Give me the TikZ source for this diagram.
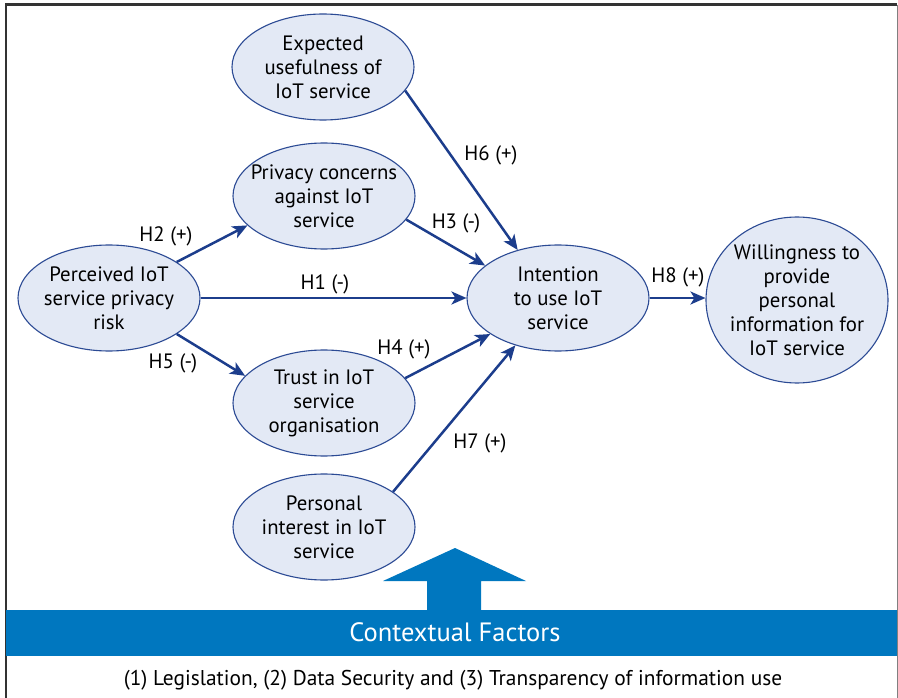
\documentclass[tikz,border=0pt]{standalone}
\usepackage{fontspec}
\setmainfont{PT Sans}
\usetikzlibrary{arrows.meta,shapes.geometric}
\definecolor{efill}{HTML}{E3E9F5}
\definecolor{edraw}{HTML}{2B4A94}
\definecolor{arr}{HTML}{1C3D8C}
\definecolor{bandblue}{HTML}{0077BF}
\definecolor{framec}{HTML}{333333}
\begin{document}
\begin{tikzpicture}[x=1pt,y=-1pt,
  construct/.style={ellipse, draw=edraw, fill=efill, line width=1.1pt,
    minimum width=182pt, minimum height=106pt, inner xsep=-20pt, inner ysep=-10pt,
    align=center, font=\fontsize{20.8}{24}\selectfont},
  hyp/.style={draw=arr, line width=2.5pt, -{Stealth[length=15pt,width=13pt,inset=4pt]}},
  hlabel/.style={font=\fontsize{20.8}{24}\selectfont, inner sep=0pt}
]
\useasboundingbox (0,0) rectangle (898,698);
% frame
\draw[framec, line width=3pt] (5,5) -- (897,5);
\draw[framec, line width=2pt] (6,5) -- (6,698);
\draw[gray, line width=1pt] (897,5) -- (897,698);

% contextual band and arrow
\fill[bandblue] (6,610) rectangle (897,656);
\fill[bandblue] (427,611) -- (427,581) -- (383,581) -- (455,548) -- (526,581) -- (481,581) -- (481,611) -- cycle;
\node[font=\fontsize{26.5}{30}\selectfont, text=white, inner sep=0pt] (ctx) at (455,632) {Contextual Factors};
\node[font=\fontsize{21.4}{24}\selectfont, inner sep=0pt] (ctxlist) at (453,680) {(1) Legislation, (2) Data Security and (3) Transparency of information use};

% constructs
\node[construct] (exp) at (323,67) {Expected\\usefulness of\\IoT service};
\node[construct] (pc) at (324,196) {Privacy concerns\\against IoT\\service};
\node[construct] (pr) at (109,298) {Perceived IoT\\service privacy\\risk};
\node[construct] (tr) at (324,403) {Trust in IoT\\service\\organisation};
\node[construct] (pi) at (324,527) {Personal\\interest in IoT\\service};
\node[construct] (it) at (558,298) {Intention\\to use IoT\\service};
\node[construct, minimum height=166pt] (wi) at (797,300) {Willingness to\\provide\\personal\\information for\\IoT service};

% hypotheses
\draw[hyp] (exp.-16) -- (it.130);
\draw[hyp] (pr.28) -- (pc.201);
\draw[hyp] (pc.-16) -- (it.156);
\draw[hyp] (pr.0) -- (it.180);
\draw[hyp] (pr.-28) -- (tr.161);
\draw[hyp] (tr.17) -- (it.208);
\draw[hyp] (pi.27) -- (it.228);
\draw[hyp] (it.0) -- (it.0 -| wi.west);

\node[hlabel] (h6) at (491,155) {H6 (+)};
\node[hlabel] (h2) at (166,236) {H2 (+)};
\node[hlabel] (h3) at (456,223) {H3 (-)};
\node[hlabel] (h1) at (325,284) {H1 (-)};
\node[hlabel] (h5) at (173,363) {H5 (-)};
\node[hlabel] (h4) at (404,349) {H4 (+)};
\node[hlabel] (h7) at (480,443) {H7 (+)};
\node[hlabel] (h8) at (678,277) {H8 (+)};
\end{tikzpicture}
\end{document}
